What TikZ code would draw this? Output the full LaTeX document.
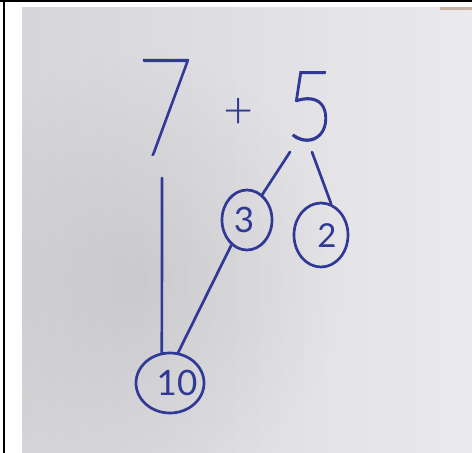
\documentclass[tikz,border=0pt]{standalone}
\usepackage{fontspec}
\usetikzlibrary{shapes.geometric,fadings}
\newfontfamily\handSeven{Lato Thin}[FakeBold=1.3]
\newfontfamily\handFive{Lato Thin}[FakeBold=2.2]
\newfontfamily\handL{Lato Light}
\newfontfamily\handR{Lato}
\definecolor{ink}{RGB}{48,58,150}
\definecolor{paperL}{RGB}{214,213,217}
\definecolor{paperR}{RGB}{234,233,236}
\tikzfading[name=softspot, inner color=transparent!0, outer color=transparent!100]
\tikzset{
  pen/.style={draw=ink, line width=2.7pt, line cap=round},
  ring/.style={ellipse, draw=ink, line width=2.7pt, inner sep=0pt},
  digit/.style={text=ink, inner sep=0pt, anchor=base},
}
\begin{document}
\begin{tikzpicture}[x=1pt,y=-1pt]
\useasboundingbox (0,0) rectangle (472,453);
\fill[white] (0,0) rectangle (472,453);
\fill[black] (0,0) rectangle (472,2);
\fill[black] (3,0) rectangle (5,453);
\shade[left color=paperL, right color=paperR] (22,7) rectangle (472,453);
\begin{scope}
  \clip (22,7) rectangle (472,453);
  \fill[black!60, opacity=0.14, path fading=softspot] (140,280) ellipse (200 and 230);
  \fill[brown!60!gray, opacity=0.5] (440,7) rectangle (472,10);
\end{scope}

% numbers
\node[digit] (n7) at (165,155) {\scalebox{0.72}[1]{\handSeven\fontsize{136}{136}\selectfont 7}};
\node[digit] (plus) at (239,128) {\handL\fontsize{52}{52}\selectfont +};
\node[digit] (n5) at (310,140) {\scalebox{0.85}[1]{\handFive\fontsize{97}{97}\selectfont 5}};

% circles
\node[ring, minimum width=50pt, minimum height=60pt] (c3) at (247,220) {};
\node[ring, minimum width=54pt, minimum height=64pt] (c2) at (321,235) {};
\node[ring, minimum width=68pt, minimum height=60pt] (c10) at (170,383) {};
\node[digit] (t3) at (244,232) {\handR\fontsize{35}{35}\selectfont 3};
\node[digit] (t2) at (327,247) {\handR\fontsize{33}{33}\selectfont 2};
\node[digit] (t10) at (177,395) {\handR\fontsize{35}{35}\selectfont 10};

% connectors
\draw[pen] ([shift={(-3pt,-23pt)}]n7.base) -- (c10.105);
\draw[pen] ([shift={(-20pt,-12pt)}]n5.base) -- (c3.59);
\draw[pen] ([shift={(2pt,-12pt)}]n5.base) -- (c2.72);
\draw[pen] (c3.238) -- (c10.75);
\end{tikzpicture}
\end{document}
